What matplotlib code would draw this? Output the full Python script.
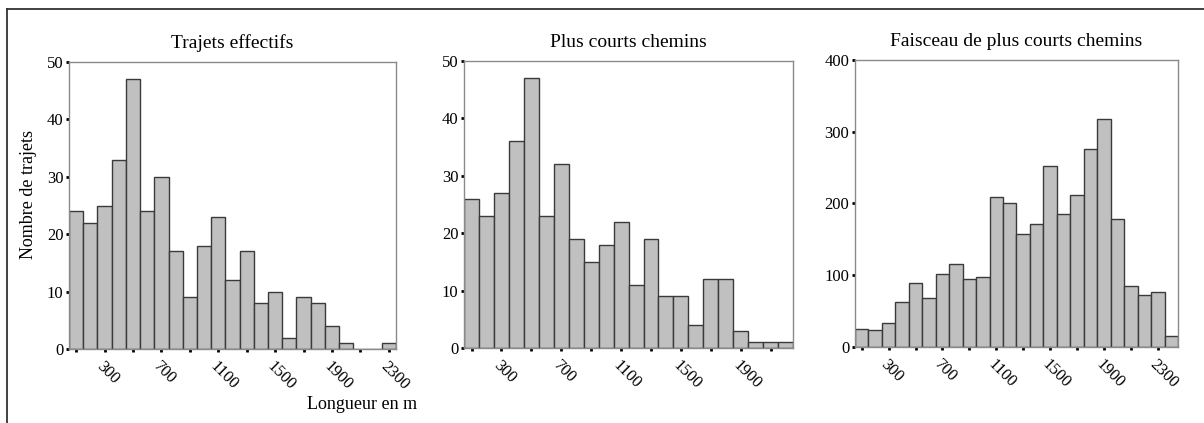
import matplotlib
matplotlib.use("Agg")
import matplotlib.pyplot as plt
from matplotlib.lines import Line2D
import numpy as np

plt.rcParams['font.family'] = ['Liberation Serif', 'DejaVu Serif']

# bin centres (m) and counts
centres_eff = np.arange(100, 2400, 100)
trajets_effectifs = [24, 22, 25, 33, 47, 24, 30, 17, 9, 18, 23, 12,
                     17, 8, 10, 2, 9, 8, 4, 1, 0, 0, 1]

centres_pcc = np.arange(100, 2300, 100)
plus_courts = [26, 23, 27, 36, 47, 23, 32, 19, 15, 18, 22, 11,
               19, 9, 9, 4, 12, 12, 3, 1, 1, 1]

centres_fsc = np.arange(100, 2500, 100)
faisceau = [25, 24, 34, 63, 89, 68, 102, 115, 95, 98, 209, 200,
            158, 172, 252, 186, 212, 276, 318, 179, 85, 72, 77, 16]

titles = ['Trajets effectifs', 'Plus courts chemins', 'Faisceau de plus courts chemins']
yticks = [np.arange(0, 51, 10), np.arange(0, 51, 10), np.arange(0, 401, 100)]
ylims = [50, 50, 400]
label_every = [300, 700, 1100, 1500, 1900, 2300]

fig = plt.figure(figsize=(12.04, 4.23), dpi=100)
positions = [[0.0573, 0.1749, 0.2716, 0.6785],
             [0.3854, 0.1773, 0.2733, 0.6785],
             [0.7101, 0.1797, 0.2683, 0.6785]]
datasets = [(centres_eff, trajets_effectifs),
            (centres_pcc, plus_courts),
            (centres_fsc, faisceau)]

for i, (centres, counts) in enumerate(datasets):
    ax = fig.add_axes(positions[i])
    ax.bar(centres, counts, width=100, color='#c0c0c0',
           edgecolor='#3a3a3a', linewidth=1.0)
    ax.set_xlim(centres[0] - 50, centres[-1] + 50)
    ax.set_ylim(0, ylims[i])
    ticks = np.arange(100, centres[-1] + 1, 200)
    ax.set_xticks(ticks)
    ax.set_xticklabels([str(t) if t in label_every else '' for t in ticks],
                       rotation=-45, ha='left', va='top', rotation_mode='anchor')
    ax.set_yticks(yticks[i])
    ax.tick_params(axis='both', length=2, width=2, color='black',
                   labelsize=12, pad=2)
    ax.tick_params(axis='x', pad=5)
    for sp in ax.spines.values():
        sp.set_color('#8a8a8a')
        sp.set_linewidth(1.0)
    ax.set_title(titles[i], fontsize=14, pad=10)

fig.text(0.024, 0.54, 'Nombre de trajets', rotation=90, fontsize=13,
         ha='center', va='center')
fig.text(0.301, 0.043, 'Longueur en m', fontsize=13, ha='center', va='center')

# outer frame (top and left edges only)
fig.add_artist(Line2D([0.006, 1.0], [0.979, 0.979], transform=fig.transFigure,
                      color='#333333', linewidth=1.3))
fig.add_artist(Line2D([0.006, 0.006], [0.0, 0.979], transform=fig.transFigure,
                      color='#333333', linewidth=1.3))

fig.savefig('out.png', dpi=100)
